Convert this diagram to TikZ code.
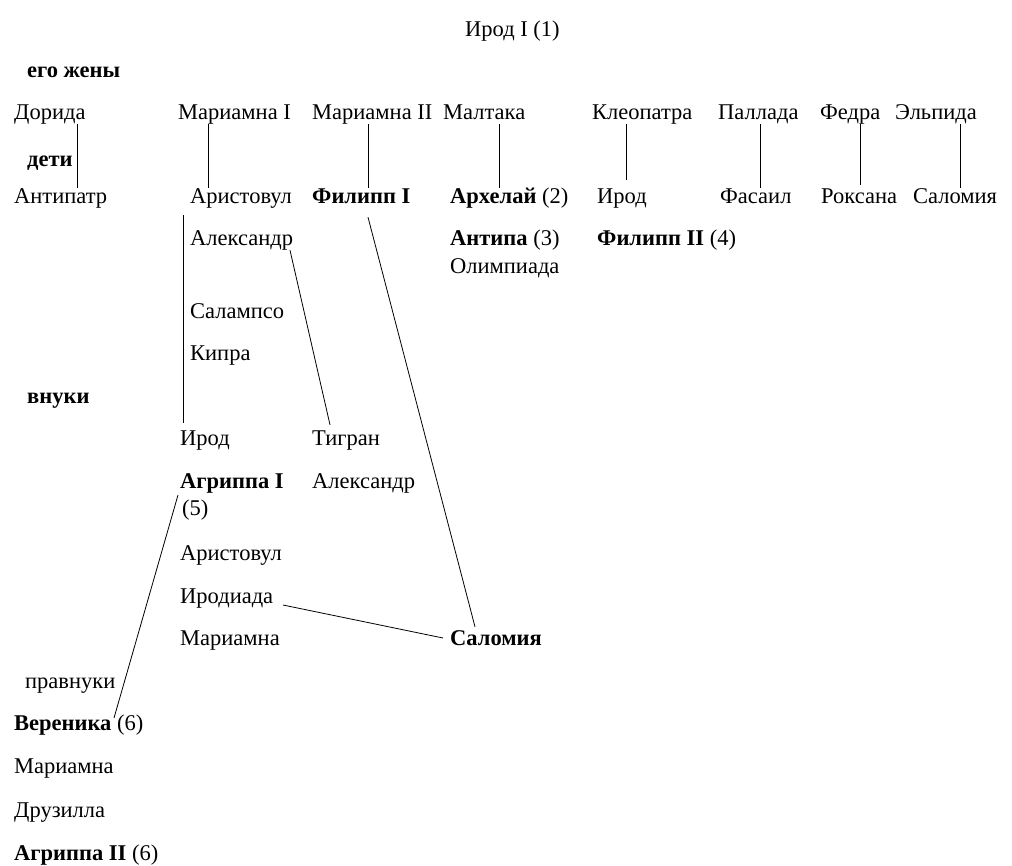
\documentclass[tikz,border=0pt]{standalone}
\usepackage{fontspec}
\setmainfont{Liberation Serif}
\begin{document}
\begin{tikzpicture}[
    x=1pt,y=-1pt,
    person/.style={anchor=base west,inner sep=0pt,text height=15pt,text depth=5pt,
                   font=\fontsize{22.5}{26}\selectfont},
    bold/.style={person,font=\fontsize{22.5}{26}\selectfont\bfseries},
    link/.style={draw=black,line width=0.8pt}
  ]
    \useasboundingbox (0,0) rectangle (1012,865);

    \node[person] (herod) at (465,36) {Ирод I (1)};

    % wives
    \node[bold] (wives) at (27,77) {его жены};
    \node[person] (dorida) at (14,119) {Дорида};
    \node[person] (mariamne1) at (178,119) {Мариамна I};
    \node[person] (mariamne2) at (312,119) {Мариамна II};
    \node[person] (malthace) at (443,119) {Малтака};
    \node[person] (cleopatra) at (592,119) {Клеопатра};
    \node[person] (pallas) at (718,119) {Паллада};
    \node[person] (phaedra) at (820,119) {Федра};
    \node[person] (elpis) at (895,119) {Эльпида};

    % children
    \node[bold] (children) at (27,166) {дети};
    \node[person] (antipater) at (14,203) {Антипатр};
    \node[person] (aristobul) at (190,203) {Аристовул};
    \node[bold] (philip1) at (312,203) {Филипп I};
    \node[person] (archelaus) at (450,203) {\textbf{Архелай} (2)};
    \node[person] (herodc) at (597,203) {Ирод};
    \node[person] (phasael) at (720,203) {Фасаил};
    \node[person] (roxane) at (821,203) {Роксана};
    \node[person] (salome1) at (913,203) {Саломия};
    \node[person] (alexander) at (190,245) {Александр};
    \node[person] (antipas) at (450,245) {\textbf{Антипа} (3)};
    \node[person] (philip2) at (597,245) {\textbf{Филипп II} (4)};
    \node[person] (olympias) at (450,273) {Олимпиада};
    \node[person] (salampsio) at (190,318) {Салампсо};
    \node[person] (cypros) at (190,360) {Кипра};

    % grandchildren
    \node[bold] (grandch) at (27,403) {внуки};
    \node[person] (herodg) at (180,445) {Ирод};
    \node[person] (tigranes) at (312,445) {Тигран};
    \node[bold] (agrippa1) at (180,488) {Агриппа I};
    \node[person] (agrippa1num) at (182,515) {(5)};
    \node[person] (alexanderg) at (312,488) {Александр};
    \node[person] (aristobulg) at (180,560) {Аристовул};
    \node[person] (herodias) at (180,603) {Иродиада};
    \node[person] (mariamneg) at (180,645) {Мариамна};
    \node[bold] (salomeg) at (450,645) {Саломия};

    % great-grandchildren
    \node[person] (greatgr) at (25,688) {правнуки};
    \node[person] (berenice) at (14,730) {\textbf{Вереника} (6)};
    \node[person] (mariamnegg) at (14,773) {Мариамна};
    \node[person] (drusilla) at (14,817) {Друзилла};
    \node[person] (agrippa2) at (14,860) {\textbf{Агриппа II} (6)};

    % wife -- child
    \draw[link] ([xshift=63pt]dorida.south west) -- ([xshift=63pt]antipater.north west);
    \draw[link] ([xshift=30pt]mariamne1.south west) -- ([xshift=18pt]aristobul.north west);
    \draw[link] ([xshift=56pt]mariamne2.south west) -- ([xshift=56pt]philip1.north west);
    \draw[link] ([xshift=56pt]malthace.south west) -- ([xshift=49pt]archelaus.north west);
    \draw[link] ([xshift=34pt]cleopatra.south west) -- ([xshift=29pt,yshift=8pt]herodc.north west);
    \draw[link] ([xshift=42pt]pallas.south west) -- ([xshift=40pt]phasael.north west);
    \draw[link] ([xshift=40pt]phaedra.south west) -- ([xshift=39pt,yshift=3pt]roxane.north west);
    \draw[link] ([xshift=65pt]elpis.south west) -- ([xshift=47pt]salome1.north west);

    % descent lines
    \draw[link] ([xshift=-7pt,yshift=-7pt]aristobul.south west) -- ([xshift=3pt,yshift=7pt]herodg.north west);
    \draw[link] ([xshift=100pt]alexander.south west) -- ([xshift=18pt,yshift=5pt]tigranes.north west);
    \draw[link] ([xshift=56pt,yshift=-9pt]philip1.south west) -- ([xshift=25pt,yshift=3pt]salomeg.north west);
    \draw[link] ([xshift=103pt,yshift=-2pt]herodias.base west) -- ([xshift=-7pt,yshift=7pt]salomeg.base west);
    \draw[link] ([xshift=-2pt,yshift=-7pt]agrippa1.base west) -- ([xshift=100pt,yshift=12pt]berenice.base west);
\end{tikzpicture}
\end{document}
